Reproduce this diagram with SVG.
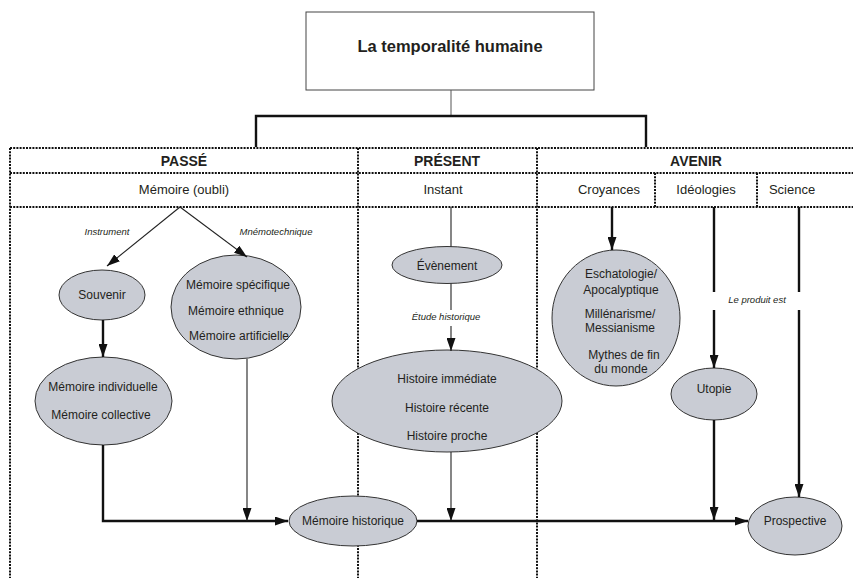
<svg xmlns="http://www.w3.org/2000/svg" width="853" height="578" viewBox="0 0 853 578">
<style>
text{font-family:"Liberation Sans",Arial,sans-serif;fill:#231f20;text-anchor:middle}
.t{font-size:16.5px;font-weight:bold}
.h{font-size:14px;font-weight:bold}
.s{font-size:13px}
.n{font-size:12px}
.i{font-size:9.5px;font-style:italic}
.dot{stroke:#111;stroke-width:2;stroke-dasharray:2 1.2;fill:none}
.el{fill:#c9ccd4;stroke:#333;stroke-width:1}
.thin{stroke:#222;stroke-width:1.1;fill:none}
.thick{stroke:#111;stroke-width:2.4;fill:none}
</style>
<defs>
<marker id="a" markerUnits="userSpaceOnUse" markerWidth="13" markerHeight="9" refX="13" refY="4.5" orient="auto"><path d="M0,0 L13,4.5 L0,9 z" fill="#111"/></marker>
</defs>
<g id="table">
<line class="dot" x1="10" y1="148" x2="853" y2="148"/>
<line class="dot" x1="10" y1="173" x2="853" y2="173"/>
<line class="dot" x1="10" y1="207" x2="853" y2="207"/>
<line class="dot" x1="10" y1="148" x2="10" y2="578"/>
<line class="dot" x1="358" y1="148" x2="358" y2="578"/>
<line class="dot" x1="537" y1="148" x2="537" y2="578"/>
<line class="dot" x1="655" y1="173" x2="655" y2="207"/>
<line class="dot" x1="757" y1="173" x2="757" y2="207"/>
<text class="h" x="184" y="166">PASSÉ</text>
<text class="h" x="447" y="166">PRÉSENT</text>
<text class="h" x="696" y="166">AVENIR</text>
<text class="s" x="184" y="194">Mémoire (oubli)</text>
<text class="s" x="443" y="194">Instant</text>
<text class="s" x="609" y="194">Croyances</text>
<text class="s" x="706" y="194">Idéologies</text>
<text class="s" x="792" y="194">Science</text>
</g>
<g id="title">
<rect x="306" y="12" width="288" height="78" fill="#fff" stroke="#444" stroke-width="1"/>
<text class="t" x="450" y="52">La temporalité humaine</text>
</g>
<g id="souvenir">
<ellipse class="el" cx="102" cy="295" rx="43" ry="25"/>
<text class="n" x="102" y="299">Souvenir</text>
</g>
<g id="memoire-specifique">
<ellipse class="el" cx="236" cy="307" rx="65" ry="52"/>
<text class="n" x="238" y="289">Mémoire spécifique</text>
<text class="n" x="236" y="315">Mémoire ethnique</text>
<text class="n" x="239" y="340">Mémoire artificielle</text>
</g>
<g id="memoire-individuelle">
<ellipse class="el" cx="103.5" cy="401" rx="68.5" ry="44"/>
<text class="n" x="103" y="391">Mémoire individuelle</text>
<text class="n" x="101" y="419">Mémoire collective</text>
</g>
<g id="evenement">
<ellipse class="el" cx="447" cy="265" rx="55" ry="18.5"/>
<text class="n" x="447" y="270">Évènement</text>
</g>
<g id="histoire">
<ellipse class="el" cx="447" cy="401" rx="115" ry="51"/>
<text class="n" x="447" y="383">Histoire immédiate</text>
<text class="n" x="447" y="412">Histoire récente</text>
<text class="n" x="447" y="440">Histoire proche</text>
</g>
<g id="croyances-node">
<ellipse class="el" cx="616" cy="318" rx="64" ry="68"/>
<text class="n" x="621" y="278">Eschatologie/</text>
<text class="n" x="621" y="294">Apocalyptique</text>
<text class="n" x="620" y="318">Millénarisme/</text>
<text class="n" x="620" y="332">Messianisme</text>
<text class="n" x="624" y="359">Mythes de fin</text>
<text class="n" x="621" y="373">du monde</text>
</g>
<g id="utopie">
<ellipse class="el" cx="714" cy="394" rx="43" ry="26"/>
<text class="n" x="714" y="393">Utopie</text>
</g>
<g id="memoire-historique">
<ellipse class="el" cx="353" cy="521" rx="64" ry="25"/>
<text class="n" x="353" y="525">Mémoire historique</text>
</g>
<g id="prospective">
<ellipse class="el" cx="795" cy="526" rx="47" ry="29"/>
<text class="n" x="795" y="525">Prospective</text>
</g>
<g id="connectors">
<line x1="451" y1="90" x2="451" y2="116" stroke="#555" stroke-width="1"/>
<path class="thick" d="M256,147 V116 H646 V147" stroke-width="2"/>
<line class="thin" x1="180" y1="207" x2="107" y2="266" marker-end="url(#a)" stroke-width="1.3"/>
<line class="thin" x1="180" y1="207" x2="247" y2="257" marker-end="url(#a)" stroke-width="1.3"/>
<text class="i" x="107" y="235">Instrument</text>
<text class="i" x="276" y="235">Mnémotechnique</text>
<line class="thick" x1="103" y1="320" x2="103" y2="357" marker-end="url(#a)"/>
<path class="thick" d="M103,445 V521 H288" marker-end="url(#a)"/>
<line class="thin" x1="247" y1="359" x2="247" y2="521" marker-end="url(#a)"/>
<line class="thin" x1="451" y1="207" x2="451" y2="246.5"/>
<line class="thin" x1="451" y1="283.5" x2="451" y2="310"/>
<line class="thin" x1="451" y1="326" x2="451" y2="351" marker-end="url(#a)"/>
<text class="i" x="446" y="320">Étude historique</text>
<line class="thin" x1="451" y1="452" x2="451" y2="521" marker-end="url(#a)"/>
<line class="thick" x1="417" y1="521" x2="748" y2="521" marker-end="url(#a)"/>
<line class="thick" x1="612" y1="207" x2="612" y2="250" marker-end="url(#a)"/>
<line class="thick" x1="714" y1="207" x2="714" y2="292"/>
<line class="thick" x1="714" y1="310" x2="714" y2="368" marker-end="url(#a)"/>
<line class="thick" x1="714" y1="420" x2="714" y2="520" marker-end="url(#a)"/>
<line class="thick" x1="799" y1="207" x2="799" y2="292"/>
<line class="thick" x1="799" y1="310" x2="799" y2="497" marker-end="url(#a)"/>
<text class="i" x="757" y="303">Le produit est</text>
</g>
</svg>
